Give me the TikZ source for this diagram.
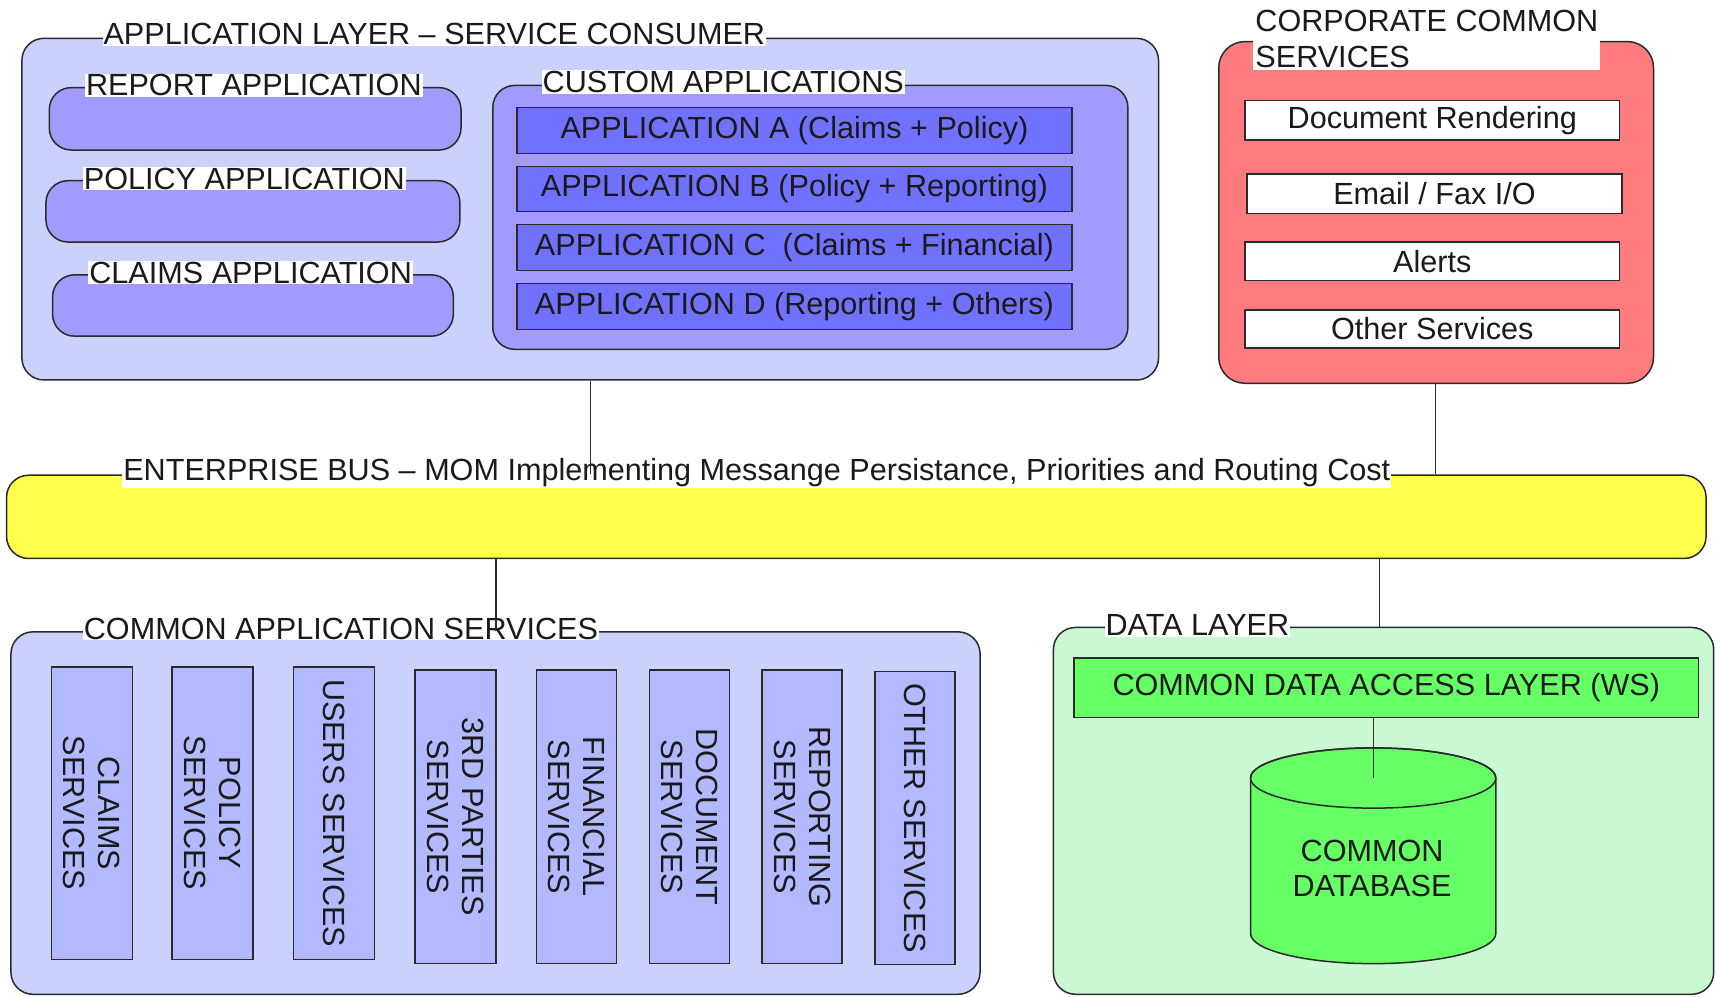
\documentclass[tikz,border=0pt]{standalone}
\usepackage{fontspec}
\setmainfont{Liberation Sans}
\usetikzlibrary{fit}
\definecolor{linec}{HTML}{2A2A2A}
\definecolor{textc}{HTML}{1A1A1A}
\definecolor{layerblue}{HTML}{CBD1FD}
\definecolor{pillblue}{HTML}{A29BFE}
\definecolor{appblue}{HTML}{7171FF}
\definecolor{svcblue}{HTML}{B2B9FE}
\definecolor{corpred}{HTML}{FF7B7E}
\definecolor{busyellow}{HTML}{FFFF4C}
\definecolor{datagreen}{HTML}{CAF8D2}
\definecolor{brightgreen}{HTML}{66FF66}
\begin{document}
\begin{tikzpicture}[x=1.095pt,y=-1.095pt,
  font=\fontsize{30.6}{36}\selectfont, line width=1.5pt,
  box/.style={draw=linec, inner sep=0pt},
  layer/.style={box, rounded corners=22pt},
  ttl/.style={fill=white, anchor=west, inner sep=1pt, text=textc},
  btext/.style={text=textc, inner sep=0pt},
  vtext/.style={rotate=-90, align=center, text=textc, font=\fontsize{30.6}{35}\selectfont},
  conn/.style={draw=linec, line width=1.3pt}]
\useasboundingbox (0,0) rectangle (1568,910);

% ---------- Application layer ----------
\node[layer, fill=layerblue, fit={(20,35) (1058,347)}] (applayer) {};
\node[ttl] (applayerT) at (93,31) {APPLICATION LAYER -- SERVICE CONSUMER};

\node[layer, fill=pillblue, fit={(45,80) (421,137)}] (report) {};
\node[ttl] (reportT) at (77,78) {REPORT APPLICATION};
\node[layer, fill=pillblue, fit={(42,165) (420,221)}] (policy) {};
\node[ttl] (policyT) at (75,163) {POLICY APPLICATION};
\node[layer, fill=pillblue, fit={(48,251) (414,307)}] (claims) {};
\node[ttl] (claimsT) at (80,249) {CLAIMS APPLICATION};

\node[layer, fill=pillblue, fit={(450,78) (1030,319)}] (custom) {};
\node[ttl] (customT) at (494,75) {CUSTOM APPLICATIONS};
\node[box, fill=appblue, fit={(472,98) (979,140)}] (appA) {};
\node[btext] (appAT) at (appA.center) {APPLICATION A (Claims + Policy)};
\node[box, fill=appblue, fit={(472,152) (979,193)}] (appB) {};
\node[btext] (appBT) at (appB.center) {APPLICATION B (Policy + Reporting)};
\node[box, fill=appblue, fit={(472,205) (979,247)}] (appC) {};
\node[btext] (appCT) at (appC.center) {APPLICATION C\ \ (Claims + Financial)};
\node[box, fill=appblue, fit={(472,259) (979,301)}] (appD) {};
\node[btext] (appDT) at (appD.center) {APPLICATION D (Reporting + Others)};

% ---------- Corporate common services ----------
\node[layer, rounded corners=26pt, fill=corpred, fit={(1113,38) (1510,350)}] (corp) {};
\node[ttl, align=left, inner sep=2pt] (corpT) at (1144,36) {CORPORATE COMMON\\SERVICES};
\node[box, fill=white, fit={(1137,92) (1479,128)}] (docr) {};
\node[btext] (docrT) at (docr.center) {Document Rendering};
\node[box, fill=white, fit={(1139,159) (1481,195)}] (email) {};
\node[btext] (emailT) at (email.center) {Email / Fax I/O};
\node[box, fill=white, fit={(1137,221) (1479,256)}] (alerts) {};
\node[btext] (alertsT) at (alerts.center) {Alerts};
\node[box, fill=white, fit={(1137,283) (1479,318)}] (others) {};
\node[btext] (othersT) at (others.center) {Other Services};

% ---------- Enterprise bus ----------
\node[layer, fill=busyellow, fit={(6,434) (1558,510)}] (bus) {};
\node[ttl] (busT) at (111,432) {ENTERPRISE BUS -- MOM Implementing Messange Persistance, Priorities and Routing Cost};

% ---------- Common application services ----------
\node[layer, fill=layerblue, fit={(10,577) (895,908)}] (cas) {};
\node[ttl] (casT) at (75,574) {COMMON APPLICATION SERVICES};
\node[box, fill=svcblue, fit={(47,609) (121,876)}] (s1) {};
\node[vtext] (s1T) at (s1.center) {CLAIMS\\SERVICES};
\node[box, fill=svcblue, fit={(157,609) (231,876)}] (s2) {};
\node[vtext] (s2T) at (s2.center) {POLICY\\SERVICES};
\node[box, fill=svcblue, fit={(268,609) (342,876)}] (s3) {};
\node[vtext] (s3T) at (s3.center) {USERS SERVICES};
\node[box, fill=svcblue, fit={(379,612) (453,880)}] (s4) {};
\node[vtext] (s4T) at (s4.center) {3RD PARTIES\\SERVICES};
\node[box, fill=svcblue, fit={(490,612) (563,880)}] (s5) {};
\node[vtext] (s5T) at (s5.center) {FINANCIAL\\SERVICES};
\node[box, fill=svcblue, fit={(593,612) (666,880)}] (s6) {};
\node[vtext] (s6T) at (s6.center) {DOCUMENT\\SERVICES};
\node[box, fill=svcblue, fit={(696,612) (769,880)}] (s7) {};
\node[vtext] (s7T) at (s7.center) {REPORTING\\SERVICES};
\node[box, fill=svcblue, fit={(799,613) (872,881)}] (s8) {};
\node[vtext] (s8T) at (s8.center) {OTHER SERVICES};

% ---------- Data layer ----------
\node[layer, fill=datagreen, fit={(962,573) (1565,908)}] (data) {};
\node[ttl] (dataT) at (1008,571) {DATA LAYER};
\node[box, fill=brightgreen, fit={(981,601) (1551,655)}] (cdal) {};
\node[btext] (cdalT) at (cdal.center) {COMMON DATA ACCESS LAYER (WS)};

% cylinder
\filldraw[draw=linec, fill=brightgreen]
  (1142,710.5) -- (1142,852.5)
  arc[start angle=180, end angle=0, x radius=112, y radius=27.5]
  -- (1366,710.5)
  arc[start angle=0, end angle=-180, x radius=112, y radius=27.5] -- cycle;
\draw[draw=linec] (1254,710.5) ellipse[x radius=112, y radius=27.5];
\coordinate (dbtop) at (1254,710.5);
\node[align=center, text=textc, font=\fontsize{30.6}{35}\selectfont] (db) at (1253,793) {COMMON\\DATABASE};

% ---------- Connectors ----------
\coordinate (cx1) at (539,0);
\coordinate (cx2) at (1311,0);
\coordinate (cx3) at (453,0);
\coordinate (cx4) at (1260,0);
\draw[conn] (applayer.south -| cx1) -- (bus.north -| cx1);
\draw[conn] (corp.south -| cx2) -- (bus.north -| cx2);
\draw[conn] (bus.south -| cx3) -- (cas.north -| cx3);
\draw[conn] (bus.south -| cx4) -- (data.north -| cx4);
\draw[conn] (cdal.south -| dbtop) -- (dbtop);
\end{tikzpicture}
\end{document}
